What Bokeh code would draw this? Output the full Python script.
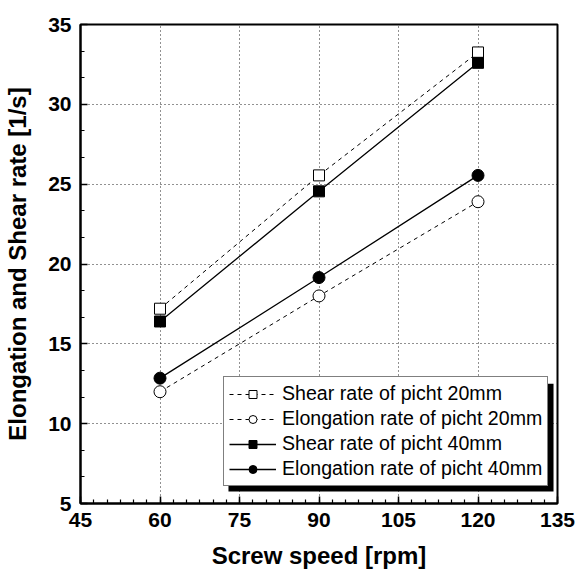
from bokeh.plotting import figure
from bokeh.models import FixedTicker, Legend, LegendItem, Range1d, BoxAnnotation
from bokeh.embed import file_html
from bokeh.resources import INLINE
import numpy as np

# Data
screw_speed = [60, 90, 120]
shear_20 = [17.2, 25.55, 33.25]
elong_20 = [12.0, 18.0, 23.9]
shear_40 = [16.4, 24.55, 32.6]
elong_40 = [12.85, 19.15, 25.55]

x_major = [45, 60, 75, 90, 105, 120, 135]
y_major = [5, 10, 15, 20, 25, 30, 35]

FONT = "Liberation Sans"

p = figure(width=577, height=575, output_backend="svg", toolbar_location=None,
           x_range=Range1d(45, 135), y_range=Range1d(5, 35),
           min_border_left=80, min_border_right=20, min_border_top=24, min_border_bottom=72)

p.background_fill_color = "white"
p.border_fill_color = "white"
p.outline_line_color = "black"
p.outline_line_width = 2

x_minor = list(np.arange(45, 135.01, 2.5))
y_minor = list(np.arange(5, 35.01, 5 / 3))
p.xaxis.ticker = FixedTicker(ticks=x_major, minor_ticks=x_minor)
p.yaxis.ticker = FixedTicker(ticks=y_major, minor_ticks=y_minor)

for ax in (p.xaxis, p.yaxis):
    ax.axis_line_width = 2
    ax.axis_line_color = "black"
    ax.major_tick_in = 7
    ax.major_tick_out = 0
    ax.minor_tick_in = 4
    ax.minor_tick_out = 0
    ax.major_tick_line_width = 1.5
    ax.minor_tick_line_width = 1.2
    ax.major_label_text_font = FONT
    ax.major_label_text_font_style = "bold"
    ax.major_label_text_font_size = "21px"
    ax.major_label_text_color = "black"
    ax.axis_label_text_font = FONT
    ax.axis_label_text_font_style = "bold"
    ax.axis_label_text_font_size = "24px"
    ax.axis_label_text_color = "black"

p.xaxis.axis_label = "Screw speed [rpm]"
p.yaxis.axis_label = "Elongation and Shear rate [1/s]"
p.xaxis.major_label_standoff = 9
p.yaxis.major_label_standoff = 9
p.xaxis.axis_label_standoff = 12
p.yaxis.axis_label_standoff = 14

for g in (p.xgrid, p.ygrid):
    g.grid_line_color = "#222222"
    g.grid_line_dash = "1 3"
    g.grid_line_width = 1
p.xgrid.ticker = FixedTicker(ticks=x_major)
p.ygrid.ticker = FixedTicker(ticks=y_major)

# Shadow for legend (decoration)
shadow = BoxAnnotation(left=72.92, right=134.25, top=12.5, bottom=5.75,
                       fill_color="black", fill_alpha=1.0, line_color=None, level="annotation")
p.add_layout(shadow)

l1 = p.line(screw_speed, shear_20, line_color="black", line_width=1, line_dash="4 4")
m1 = p.scatter(screw_speed, shear_20, marker="square", size=11, fill_color="white", line_color="black", line_width=1)
l2 = p.line(screw_speed, elong_20, line_color="black", line_width=1, line_dash="4 4")
m2 = p.scatter(screw_speed, elong_20, marker="circle", size=12, fill_color="white", line_color="black", line_width=1)
l3 = p.line(screw_speed, shear_40, line_color="black", line_width=1.3)
m3 = p.scatter(screw_speed, shear_40, marker="square", size=11, fill_color="black", line_color="black")
l4 = p.line(screw_speed, elong_40, line_color="black", line_width=1.3)
m4 = p.scatter(screw_speed, elong_40, marker="circle", size=12, fill_color="black", line_color="black")

legend = Legend(items=[
    LegendItem(label="Shear rate of picht 20mm", renderers=[l1, m1]),
    LegendItem(label="Elongation rate of picht 20mm", renderers=[l2, m2]),
    LegendItem(label="Shear rate of picht 40mm", renderers=[l3, m3]),
    LegendItem(label="Elongation rate of picht 40mm", renderers=[l4, m4]),
], location=(143, 17))
legend.label_text_font = FONT
legend.label_text_font_size = "19.6px"
legend.label_text_color = "black"
legend.glyph_width = 47
legend.glyph_height = 20
legend.label_height = 20
legend.label_standoff = 6
legend.spacing = 2
legend.padding = 5
legend.margin = 0
legend.border_line_color = "black"
legend.border_line_width = 1.5
legend.background_fill_color = "white"
legend.background_fill_alpha = 1.0
p.add_layout(legend)

open("out.html", "w").write(file_html(p, INLINE))
